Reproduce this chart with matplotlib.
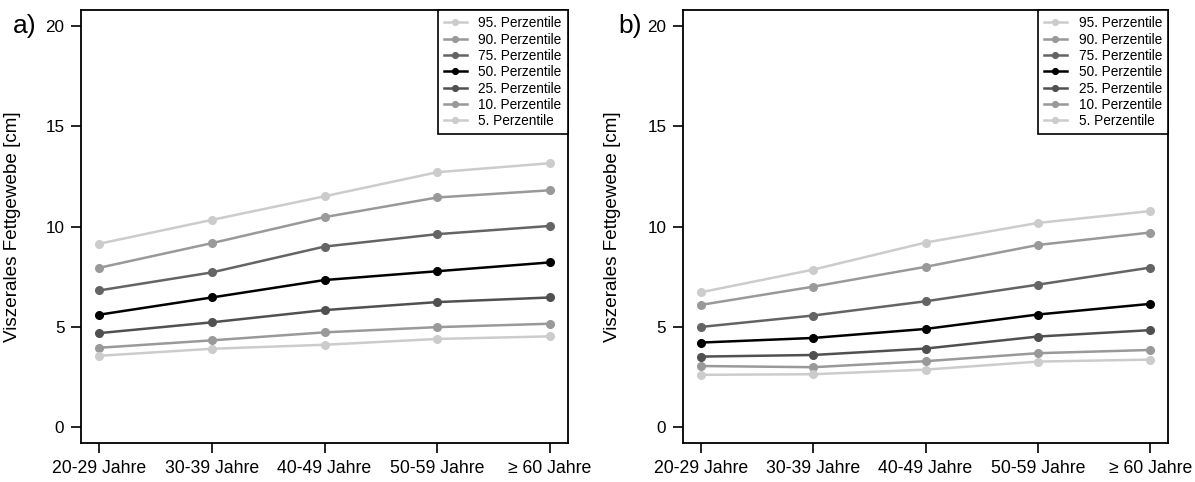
import matplotlib
matplotlib.use("Agg")
import matplotlib.pyplot as plt

plt.rcParams["font.family"] = ["Liberation Sans", "DejaVu Sans"]

altersgruppen = ["20-29 Jahre", "30-39 Jahre", "40-49 Jahre", "50-59 Jahre", "\u2265 60 Jahre"]
perzentile = ["95. Perzentile", "90. Perzentile", "75. Perzentile", "50. Perzentile",
              "25. Perzentile", "10. Perzentile", "5. Perzentile"]
farben = ["#cccccc", "#999999", "#646464", "#000000", "#505050", "#999999", "#cccccc"]

# Panel a)
werte_a = [
    [9.14, 10.33, 11.51, 12.71, 13.16],
    [7.94, 9.17, 10.47, 11.45, 11.81],
    [6.81, 7.71, 9.00, 9.62, 10.03],
    [5.60, 6.46, 7.33, 7.77, 8.21],
    [4.68, 5.22, 5.83, 6.23, 6.46],
    [3.95, 4.32, 4.72, 4.98, 5.15],
    [3.55, 3.90, 4.10, 4.39, 4.52],
]

# Panel b)
werte_b = [
    [6.72, 7.85, 9.20, 10.18, 10.77],
    [6.09, 7.00, 7.99, 9.08, 9.70],
    [4.99, 5.56, 6.27, 7.10, 7.95],
    [4.21, 4.44, 4.89, 5.61, 6.14],
    [3.51, 3.59, 3.91, 4.51, 4.83],
    [3.04, 2.98, 3.28, 3.68, 3.84],
    [2.60, 2.63, 2.86, 3.26, 3.36],
]


def tracer_panel(ax, werte, buchstabe, x_label, x_buchst):
    x = list(range(1, len(altersgruppen) + 1))
    for i, serie in enumerate(werte):
        ax.plot(x, serie, color=farben[i], lw=1.8, marker="o", markersize=5.5,
                label=perzentile[i])
    ax.set_xlim(0.84, 5.16)
    ax.set_ylim(-0.8, 20.8)
    ax.set_xticks(x)
    ax.set_xticklabels(altersgruppen, fontsize=12.7)
    ax.set_yticks([0, 5, 10, 15, 20])
    ax.tick_params(axis="y", labelsize=12.3, length=7, width=1.2, pad=5)
    ax.tick_params(axis="x", length=7, width=1.2, pad=5)
    ax.set_ylabel("Viszerales Fettgewebe [cm]", fontsize=13.6)
    ax.yaxis.set_label_coords(x_label, 0.5)
    for s in ax.spines.values():
        s.set_linewidth(1.3)
    leg = ax.legend(loc="upper right", borderaxespad=0, fancybox=False,
                    edgecolor="black", fontsize=9.8, handlelength=1.7,
                    handletextpad=0.85, labelspacing=0.17, borderpad=0.45,
                    framealpha=1, markerscale=0.75)
    leg.get_frame().set_linewidth(1.2)
    ax.text(x_buchst, 0.99, buchstabe, transform=ax.transAxes, fontsize=19,
            va="top", ha="left")


fig = plt.figure(figsize=(11.95, 4.82), dpi=100)
ax_a = fig.add_axes([0.0678, 0.081, 0.4075, 0.898])
ax_b = fig.add_axes([0.5715, 0.081, 0.406, 0.898])

tracer_panel(ax_a, werte_a, "a)", -0.123, -0.14)
tracer_panel(ax_b, werte_b, "b)", -0.128, -0.134)

fig.savefig("out.png", dpi=100)
